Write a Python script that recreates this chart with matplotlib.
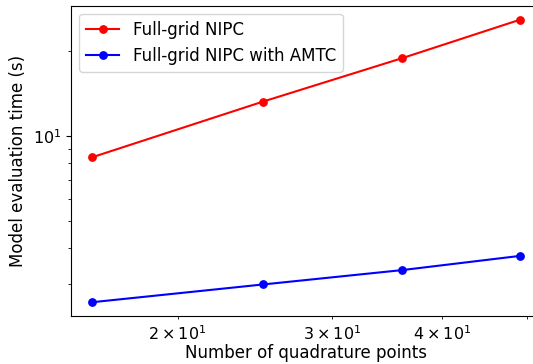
import matplotlib
matplotlib.use("Agg")
import matplotlib.pyplot as plt

n_points = [16, 25, 36, 49]
time_full = [8.40, 13.2, 18.8, 25.7]
time_amtc = [2.58, 2.98, 3.35, 3.76]

fig = plt.figure(figsize=(5.33, 3.64), dpi=100)
# axes runs a little past the right edge, as in the cropped original
ax = fig.add_axes([0.1332, 0.131, 0.8818, 0.8533])

ax.plot(n_points, time_full, color='red', marker='o', markersize=5.3, linewidth=1.5,
        label='Full-grid NIPC')
ax.plot(n_points, time_amtc, color='blue', marker='o', markersize=5.3, linewidth=1.5,
        label='Full-grid NIPC with AMTC')
ax.set_xscale('log')
ax.set_yscale('log')
ax.spines['right'].set_visible(False)

ax.set_xlabel('Number of quadrature points', fontsize=12, labelpad=1)
ax.set_ylabel('Model evaluation time (s)', fontsize=12)
ax.tick_params(which='both', labelsize=11.5)
ax.legend(fontsize=12, loc='upper left')

fig.savefig('out.png', dpi=100)
